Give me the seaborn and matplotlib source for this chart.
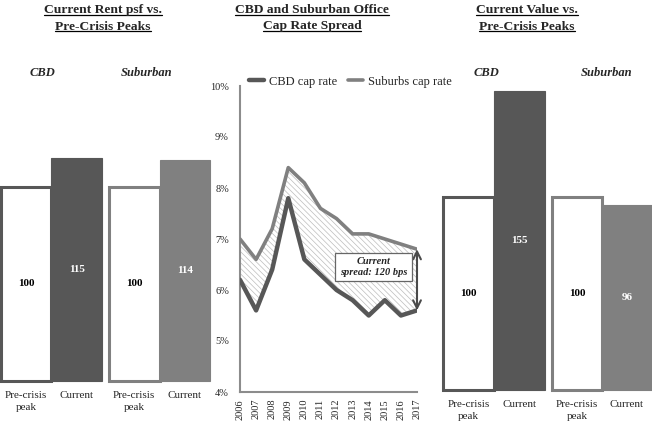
import matplotlib
matplotlib.use("Agg")
import matplotlib.pyplot as plt
from matplotlib.lines import Line2D
import seaborn as sns

# data
bar_labels = ["Pre-crisis\npeak", "Current"]
rent_cbd = [100, 115]
rent_suburban = [100, 114]
value_cbd = [100, 155]
value_suburban = [100, 96]

years = [2006, 2007, 2008, 2009, 2010, 2011, 2012, 2013, 2014, 2015, 2016, 2017]
cbd_cap = [6.2, 5.6, 6.4, 7.8, 6.6, 6.3, 6.0, 5.8, 5.5, 5.8, 5.5, 5.6]
suburbs_cap = [7.0, 6.6, 7.2, 8.4, 8.1, 7.6, 7.4, 7.1, 7.1, 7.0, 6.9, 6.8]

DARK = "#575757"
LIGHT = "#808080"
SPINE = "#8c8c8c"

sns.set_style("white")
plt.rcParams["font.family"] = ["Liberation Serif", "DejaVu Serif"]

W, H = 652, 422
fig = plt.figure(figsize=(W / 100, H / 100), dpi=100)


def px_rect(x0, y0, x1, y1):
    # pixel box (top-left origin) -> figure fraction rect
    return [x0 / W, 1 - y1 / H, (x1 - x0) / W, (y1 - y0) / H]


def bar_group(x0, x1, y_bot, px_per_100, values, color, label_pad):
    y_top = 60
    ax = fig.add_axes(px_rect(x0, y_top, x1, y_bot))
    sns.barplot(x=bar_labels, y=values, hue=bar_labels, palette=["white", color],
                width=1.0, legend=False, ax=ax, saturation=1)
    ax.set_xlim(-0.5, 1.5)
    ax.set_ylim(0, (y_bot - y_top) / px_per_100 * 100)
    pre, cur = ax.patches[0], ax.patches[1]
    pre.set_edgecolor(color)
    pre.set_linewidth(2.2)
    pre.set_zorder(2)
    cur.set_edgecolor(color)
    cur.set_linewidth(0.8)
    cur.set_zorder(3)
    for p in ax.patches:
        p.set_clip_on(False)
    for cont, tc in zip(ax.containers, ["black", "white"]):
        ax.bar_label(cont, label_type="center", color=tc, fontsize=8,
                     fontweight="bold", zorder=5)
    sns.despine(ax=ax, left=True, bottom=True)
    ax.set_yticks([])
    ax.set_xticks([0, 1])
    ax.set_xticklabels(bar_labels, linespacing=1.5)
    ax.tick_params(axis="x", length=0, pad=label_pad, labelsize=8)
    ax.set_xlabel("")
    ax.set_ylabel("")
    return ax


# left panel: rents
bar_group(1, 102, 381, 194, rent_cbd, DARK, 7)
bar_group(109, 210, 381, 194, rent_suburban, LIGHT, 7)

# right panel: values
bar_group(443, 545, 390, 193, value_cbd, DARK, 7)
bar_group(552, 652, 390, 193, value_suburban, LIGHT, 7)

# group labels
for x, txt in [(42, "CBD"), (147, "Suburban"), (486, "CBD"), (607, "Suburban")]:
    fig.text(x / W, 1 - 73 / H, txt, ha="center", va="center", fontsize=9,
             fontweight="bold", style="italic")

# middle panel: cap rates
ax = fig.add_axes(px_rect(240, 86, 417, 392))
sns.lineplot(x=years, y=suburbs_cap, color=LIGHT, lw=2.6, ax=ax,
             label="Suburbs cap rate", zorder=3)
sns.lineplot(x=years, y=cbd_cap, color=DARK, lw=3.2, ax=ax,
             label="CBD cap rate", zorder=4)
plt.rcParams["hatch.linewidth"] = 0.5
ax.fill_between(years, cbd_cap, suburbs_cap, facecolor="none",
                edgecolor="#bdbdbd", hatch="\\\\\\\\\\\\", linewidth=0, zorder=2)
ax.set_xlim(years[0], years[-1])
ax.set_ylim(4, 10)
ax.set_yticks(range(4, 11))
ax.set_yticklabels([f"{v}%" for v in range(4, 11)])
ax.set_xticks(years)
ax.set_xticklabels([str(y) for y in years], rotation=90)
ax.tick_params(axis="both", width=1.2, color=SPINE, labelsize=7.5, direction="out")
ax.tick_params(axis="y", length=4, pad=4)
ax.tick_params(axis="x", length=3, pad=2)
sns.despine(ax=ax)
for s in ["left", "bottom"]:
    ax.spines[s].set_color(SPINE)
    ax.spines[s].set_linewidth(1.5)

handles, labels = ax.get_legend_handles_labels()
ax.legend(handles[::-1], labels[::-1], loc="lower left", bbox_to_anchor=(0.05, 0.995),
          ncol=2, frameon=False, fontsize=9, handlelength=1.2, handletextpad=0.4,
          columnspacing=0.9, borderaxespad=0, borderpad=0)

# spread annotation
ax.annotate("", xy=(years[-1], cbd_cap[-1]), xytext=(years[-1], suburbs_cap[-1]),
            arrowprops=dict(arrowstyle="<->", color="#4a4a4a", lw=1.5,
                            shrinkA=0, shrinkB=0, mutation_scale=14), zorder=6)
spread = round((suburbs_cap[-1] - cbd_cap[-1]) * 100)
ax.text(2014.3, 6.45, f"Current\nspread: {spread} bps", ha="center", va="center",
        fontsize=7.5, fontweight="bold", style="italic", zorder=7,
        bbox=dict(boxstyle="square,pad=0.45", facecolor="white", edgecolor="#666666",
                  linewidth=0.9))

# underlined titles
titles = [
    (103, ["Current Rent psf vs.", "Pre-Crisis Peaks"]),
    (312, ["CBD and Suburban Office", "Cap Rate Spread"]),
    (527, ["Current Value vs.", "Pre-Crisis Peaks"]),
]
title_texts = []
for cx, lines in titles:
    for i, line in enumerate(lines):
        t = fig.text(cx / W, 1 - (10 + 16.5 * i) / H, line, ha="center", va="center",
                     fontsize=9.7, fontweight="bold")
        title_texts.append(t)

fig.canvas.draw()
renderer = fig.canvas.get_renderer()
for t in title_texts:
    bb = t.get_window_extent(renderer)
    y = (bb.y0 + 1.5) / (H)
    fig.add_artist(Line2D([bb.x0 / W, bb.x1 / W], [y, y], transform=fig.transFigure,
                          color="black", lw=0.9))

fig.savefig("out.png", dpi=100)
